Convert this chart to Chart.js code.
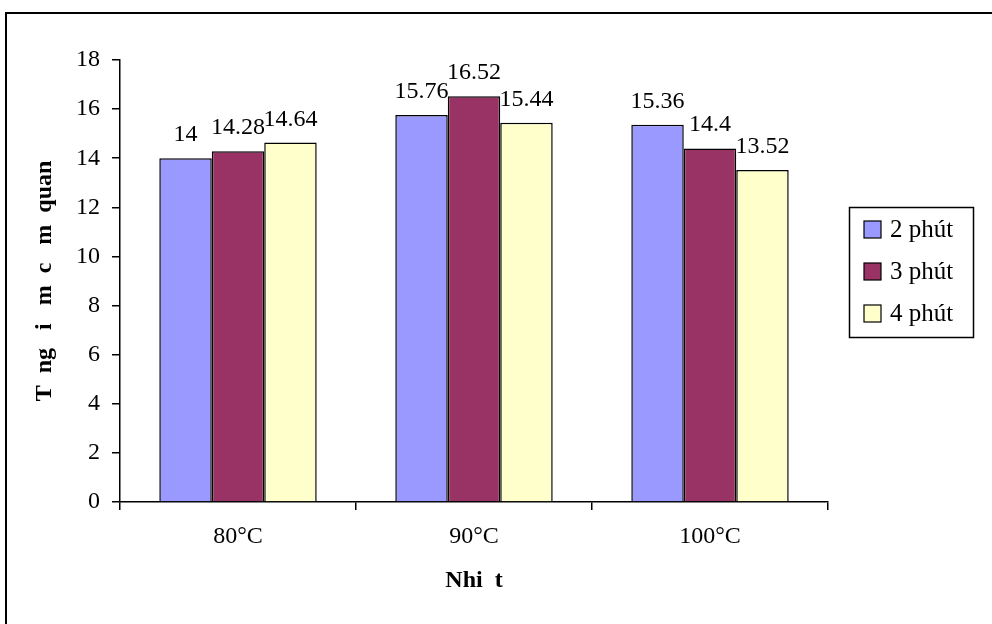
<!DOCTYPE html>
<html>
<head>
<meta charset="utf-8">
<script src="https://cdn.jsdelivr.net/npm/chart.js@4"></script>
<style>
  html, body { margin: 0; padding: 0; background: #fff; }
  #wrap { width: 992px; height: 624px; }
</style>
</head>
<body>
<div id="wrap"><canvas id="myChart" width="992" height="624"></canvas></div>
<script>
// nhiet do va thoi gian
var categories = ['80°C', '90°C', '100°C'];
var seriesNames = ['2 phút', '3 phút', '4 phút'];
var val2 = [14, 15.76, 15.36];
var val3 = [14.28, 16.52, 14.4];
var val4 = [14.64, 15.44, 13.52];
var colors = ['#9999FF', '#993366', '#FFFFCC'];

var serif = "'Liberation Serif', 'Times New Roman', serif";

// khung ngoai
var frame = {
  id: 'frame',
  beforeDraw: function (chart) {
    var ctx = chart.ctx;
    ctx.save();
    ctx.fillStyle = '#fff';
    ctx.fillRect(0, 0, chart.width, chart.height);
    ctx.strokeStyle = '#000';
    ctx.lineWidth = 2;
    ctx.beginPath();
    ctx.moveTo(6, chart.height + 5);
    ctx.lineTo(6, 13);
    ctx.lineTo(chart.width + 5, 13);
    ctx.stroke();
    ctx.restore();
  }
};

// so tren cot
var labels = {
  id: 'labels',
  afterDatasetsDraw: function (chart) {
    var ctx = chart.ctx;
    ctx.save();
    ctx.font = '24px ' + serif;
    ctx.fillStyle = '#000';
    ctx.textAlign = 'center';
    ctx.textBaseline = 'alphabetic';
    chart.data.datasets.forEach(function (ds, i) {
      chart.getDatasetMeta(i).data.forEach(function (bar, j) {
        ctx.fillText(String(ds.data[j]), bar.x, bar.y - 17);
      });
    });
    ctx.restore();
  }
};

// chu giai
var legendBox = {
  id: 'legendBox',
  afterDraw: function (chart) {
    var ctx = chart.ctx;
    ctx.save();
    ctx.strokeStyle = '#000';
    ctx.lineWidth = 1.5;
    ctx.strokeRect(849.5, 207.5, 124, 130);
    ctx.font = '25px ' + serif;
    ctx.textBaseline = 'middle';
    ctx.textAlign = 'left';
    chart.data.datasets.forEach(function (ds, i) {
      var y = 229 + i * 42;
      ctx.fillStyle = ds.backgroundColor;
      ctx.fillRect(864, y - 8, 17, 17);
      ctx.lineWidth = 1.2;
      ctx.strokeRect(864, y - 8, 17, 17);
      ctx.fillStyle = '#000';
      ctx.fillText(ds.label, 890, y + 1);
    });
    ctx.restore();
  }
};

new Chart('myChart', {
  type: 'bar',
  data: {
    labels: categories,
    datasets: [
      { label: seriesNames[0], data: val2, backgroundColor: colors[0] },
      { label: seriesNames[1], data: val3, backgroundColor: colors[1] },
      { label: seriesNames[2], data: val4, backgroundColor: colors[2] }
    ].map(function (d) {
      d.borderColor = '#000';
      d.borderWidth = 1.5;
      d.categoryPercentage = 0.667;
      d.barPercentage = 1;
      return d;
    })
  },
  plugins: [frame, labels, legendBox],
  options: {
    responsive: false,
    animation: false,
    layout: { padding: { left: 0, top: 60, right: 164, bottom: 0 } },
    plugins: {
      legend: { display: false },
      tooltip: { enabled: false }
    },
    scales: {
      y: {
        min: 0,
        max: 18,
        afterFit: function (s) { s.width = 120; },
        ticks: { stepSize: 2, color: '#000', padding: 12, font: { family: serif, size: 24 } },
        grid: { drawOnChartArea: false, color: '#000', tickLength: 8, lineWidth: 1.5 },
        border: { color: '#000', width: 1.5 },
        title: {
          display: true,
          text: 'T  ng   i   m  c   m  quan',
          color: '#000',
          padding: { top: 30, bottom: 0 },
          font: { family: serif, size: 24, weight: 'bold' }
        }
      },
      x: {
        afterFit: function (s) { s.height = 122; },
        ticks: { color: '#000', padding: 12, font: { family: serif, size: 24 } },
        grid: { drawOnChartArea: false, color: '#000', tickLength: 8, lineWidth: 1.5 },
        border: { color: '#000', width: 1.5 },
        title: {
          display: true,
          text: 'Nhi  t',
          color: '#000',
          padding: { top: 0, bottom: 29 },
          font: { family: serif, size: 24, weight: 'bold' }
        }
      }
    }
  }
});
</script>
</body>
</html>
